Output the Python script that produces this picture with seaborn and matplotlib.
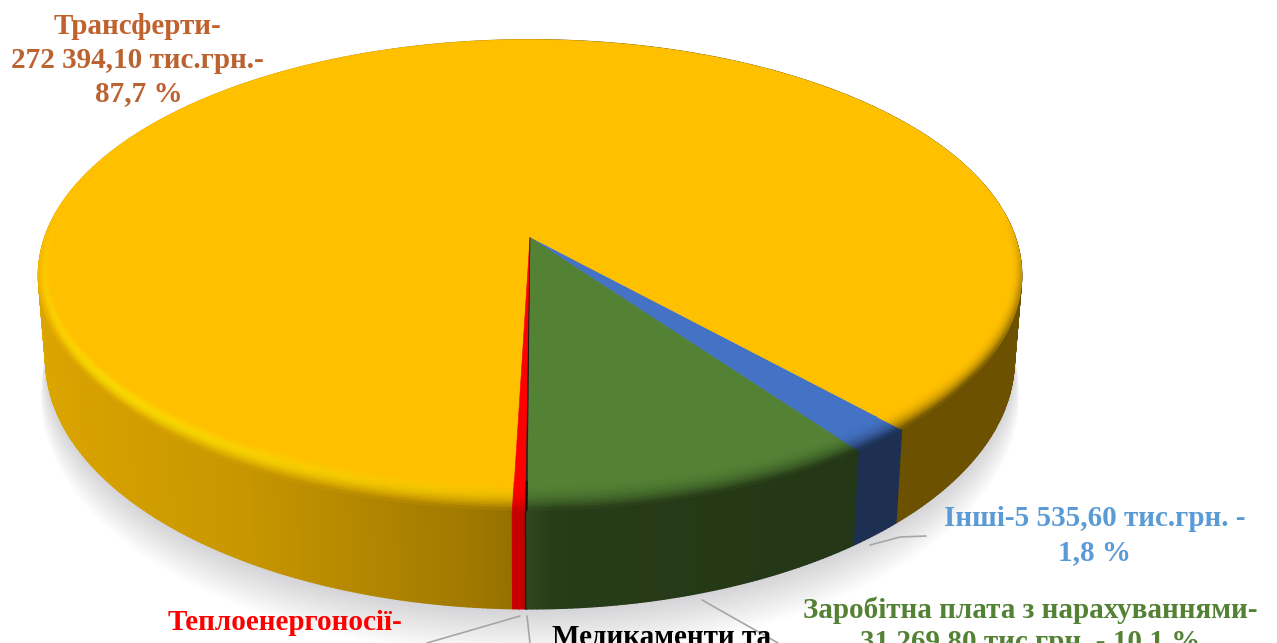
import numpy as np
import matplotlib
matplotlib.use('Agg')
import matplotlib.pyplot as plt
import seaborn as sns
from matplotlib.collections import PolyCollection

# values, thousand UAH, in the order they run round the pie
categories = ['Заробітна плата', 'Інші', 'Трансферти', 'Теплоенергоносії', 'Медикаменти']
amounts = [31269.80, 5535.60, 272394.10, 1120.0, 110.0]
slice_colors = ['#548235', '#4472C4', '#FFC000', '#FF0000', '#1A1A1A']
side_gain = [1.0, 1.0, 1.0, 1.35, 1.0]

label_lines = ['Трансферти-', '272 394,10 тис.грн.-', '87,7 %',
               'Інші-5 535,60 тис.грн. -', '1,8 %',
               'Заробітна плата з нарахуваннями-', '31 269,80 тис.грн. - 10,1 %',
               'Теплоенергоносії-', 'Медикаменти та']

sns.set_theme(style='white')
plt.rcParams['font.family'] = ['Liberation Serif', 'DejaVu Serif']

# projection of the disc onto the page
CX, CY = 530, 237
A, B, K = 485, 229, 0.162
DEPTH = 82.5
START = -90.3


def project(t, r=1.0, z=0.0):
    x, y = r * np.cos(t), r * np.sin(t)
    w = 1 + K * y
    return CX + A * x * (1 - 0.015 * z) / w, CY + (DEPTH * z - B * y) / w


def side_mult(t):
    return np.interp(np.cos(t), [-1, -0.5, -0.1, -0.02, 0.04, 0.6, 1],
                     [0.87, 0.78, 0.63, 0.58, 0.46, 0.42, 0.42])


def outline(t, r=1.0, z=0.0):
    return np.column_stack(project(t, r, z))


fig = plt.figure(figsize=(12.77, 6.43), dpi=100)
ax = fig.add_axes([0, 0, 1, 1])
ax.set_xlim(0, 1277)
ax.set_ylim(643, 0)
ax.axis('off')

rgb = sns.color_palette(slice_colors)
fractions = np.array(amounts) / np.sum(amounts)
edges = np.radians(START) + np.concatenate([[0], np.cumsum(fractions)]) * 2 * np.pi

# soft shadow under the disc
ring = np.linspace(0, 2 * np.pi, 361)
for i in range(14, 0, -1):
    ax.fill(*outline(ring, 1 + i * 0.0012, 1 + i * 0.03).T, color='#80828c', alpha=0.022, lw=0)

# side wall, bevel and top face, slice by slice
side_polys, side_cols = [], []
bevel_polys, bevel_cols = [], []
levels = np.linspace(0, 1, 13)
for start, end, col, gain in zip(edges[:-1], edges[1:], rgb, side_gain):
    col = np.array(col)
    n = max(2, int(np.degrees(end - start) * 2))
    ts = np.linspace(start, end, n + 1)
    for t0, t1 in zip(ts[:-1], ts[1:]):
        tm = (t0 + t1) / 2
        sc = np.clip(col * side_mult(tm) * gain, 0, 1)
        side_polys.append(np.vstack([outline(np.array([t0, t1])), outline(np.array([t1, t0]), z=1.0)]))
        side_cols.append(sc)
        width = 0.02 + 0.07 * np.sin(tm) ** 2
        strength = np.clip(0.15 - 1.5 * np.sin(tm), 0, 1)
        lit = np.clip(0.25 - np.cos(tm), 0, 1) * strength
        for s0, s1 in zip(levels[:-1], levels[1:]):
            sm = (s0 + s1) / 2
            r0, r1 = 1 - width * (1 - s0), 1 - width * (1 - s1)
            bc = col + (sc - col) * strength * sm ** 2.4
            if col[1] > 0.6:
                bc = bc + np.array([0, 0.11, -0.02]) * lit * np.sin(np.pi * sm) ** 2
            bevel_polys.append(np.vstack([outline(np.array([t0, t1]), r0), outline(np.array([t1, t0]), r1)]))
            bevel_cols.append(np.clip(bc, 0, 1))
    top = np.vstack([[CX, CY], outline(ts, 0.995)])
    ax.fill(*top.T, color=col, lw=0.4, zorder=3)

order = np.argsort([p[:, 1].mean() for p in side_polys])
ax.add_collection(PolyCollection([side_polys[i] for i in order], facecolors=[side_cols[i] for i in order],
                                 edgecolors=[side_cols[i] for i in order], linewidths=1.2, zorder=2))
ax.add_collection(PolyCollection(bevel_polys, facecolors=bevel_cols, edgecolors=bevel_cols,
                                 linewidths=0.8, zorder=4))

# leader lines
for xs, ys in [([870, 900, 926], [545, 537, 536]), ([702, 778], [600, 643]),
               ([520, 427], [616, 643]), ([527, 530], [616, 643])]:
    ax.plot(xs, ys, color='#A6A6A6', lw=1.2, zorder=5)

# labels
label_style = [(138, 26, '#C0622D'), (137, 61, '#BA6230'), (139, 94, '#BA6230'),
               (1095, 518, '#5B9BD5'), (1094, 553, '#5B9BD5'),
               (1030, 610, '#548235'), (1030, 643, '#548235'),
               (285, 622, '#FF0000'), (662, 638, '#000000')]
for line, (x, y, c) in zip(label_lines, label_style):
    ax.text(x, y, line, color=c, fontsize=21, fontweight='bold', ha='center', va='center', zorder=6)

fig.savefig('out.png', dpi=100)
